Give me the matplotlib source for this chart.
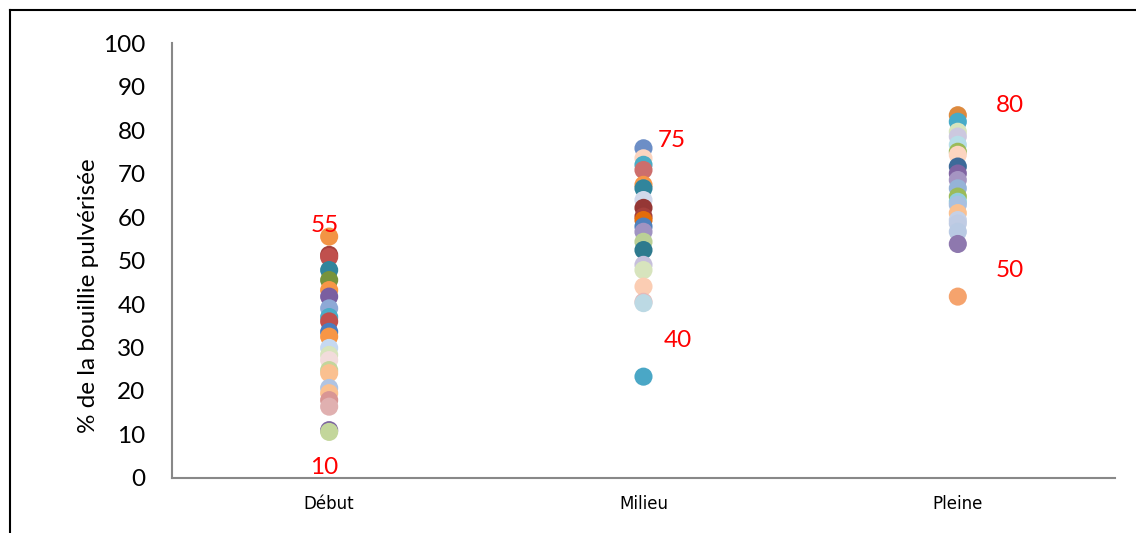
import matplotlib.pyplot as plt
from matplotlib.lines import Line2D

categories = ["Début", "Milieu", "Pleine"]

debut = [55.5, 51.3, 50.8, 47.8, 45.5, 43.2, 41.7, 39.0, 37.0, 36.0, 33.6, 32.5,
         29.9, 28.3, 27.1, 24.8, 24.1, 20.7, 19.5, 17.9, 16.4, 11.0, 10.6]
milieu = [75.8, 73.5, 72.0, 70.8, 67.4, 66.6, 63.9, 62.1, 60.1, 59.3, 57.8, 56.6,
          54.3, 52.4, 49.0, 47.8, 44.0, 40.5, 40.2, 23.3]
pleine = [83.4, 81.9, 79.6, 78.5, 76.6, 75.0, 74.3, 71.6, 70.0, 68.5, 66.6, 64.7,
          63.5, 62.8, 60.9, 59.3, 58.5, 56.6, 53.8, 41.7]

debut_colors = ["#F29445", "#A5403C", "#C0504D", "#31859C", "#77933C", "#F79646",
                "#7A5EA0", "#8EA9D6", "#4BACC6", "#C0504D", "#4A7DC0", "#F79646",
                "#C6D9F1", "#D7E4BD", "#F2DCDB", "#C3D69B", "#FAC090", "#B0C4E3",
                "#FAC090", "#D99694", "#E0B0B0", "#7D65A0", "#C3D69B"]
milieu_colors = ["#6C8EC6", "#FBD5C0", "#4BACC6", "#CD6E6C", "#F79646", "#31859C",
                 "#D2D9EB", "#953735", "#A5403C", "#E46C0A", "#4F81BD", "#A093C2",
                 "#BBD096", "#2E7A8E", "#C7C0DC", "#D7E4BD", "#FBCDB3", "#E6B9B8",
                 "#BCD9E4", "#4AA7C6"]
pleine_colors = ["#DD8A3E", "#47ABC8", "#D7E4BD", "#CCC8DF", "#B7DEE8", "#9BBB59",
                 "#FCD5C0", "#3D6A99", "#8064A2", "#A595C2", "#95B3D7", "#9BBB59",
                 "#93CDDD", "#A9C0E0", "#FAC090", "#C5D0E6", "#C0CCE4", "#B9CAE3",
                 "#8E78AE", "#F5A36D"]

# hand-placed annotations (x in category units, y in %)
note_text = ["55", "10", "75", "40", "80", "50"]
note_x = [0.985, 0.985, 2.09, 2.11, 3.165, 3.165]
note_y = [58.0, 2.3, 77.7, 31.7, 85.7, 47.8]

fig = plt.figure(figsize=(11.36, 5.33), dpi=100)
ax = fig.add_axes([0.1514, 0.1032, 0.8301, 0.8161])

groups = [debut, milieu, pleine]
colors = [debut_colors, milieu_colors, pleine_colors]
for i, (vals, cols) in enumerate(zip(groups, colors)):
    ax.scatter([i + 1] * len(vals), vals, s=170, c=cols, edgecolors="none", zorder=3)

for t, x, y in zip(note_text, note_x, note_y):
    ax.text(x, y, t, color="red", fontsize=17.5, family="Lato", ha="center", va="center")

ax.set_xlim(0.5, 3.5)
ax.set_ylim(0, 100)
ax.set_yticks(range(0, 101, 10))
ax.set_xticks([1, 2, 3])
ax.set_xticklabels(categories, fontsize=12, family="DejaVu Sans")
for lab in ax.get_yticklabels():
    lab.set_fontsize(17.5)
    lab.set_family("Lato")
ax.tick_params(axis="y", length=0, pad=19)
ax.tick_params(axis="x", length=0, pad=12)
ax.set_ylabel("% de la bouillie pulvérisée", fontsize=17.5, family="Lato",
              labelpad=3, y=0.42)

for side in ["top", "right"]:
    ax.spines[side].set_visible(False)
for side in ["left", "bottom"]:
    ax.spines[side].set_color("#888888")
    ax.spines[side].set_linewidth(1.5)

# outer frame (top and left edges only show)
fig.add_artist(Line2D([10 / 1136, 1.0], [1 - 10 / 533] * 2, color="black", lw=1.5))
fig.add_artist(Line2D([10 / 1136] * 2, [0.0, 1 - 10 / 533], color="black", lw=1.5))

fig.savefig("out.png", dpi=100)
